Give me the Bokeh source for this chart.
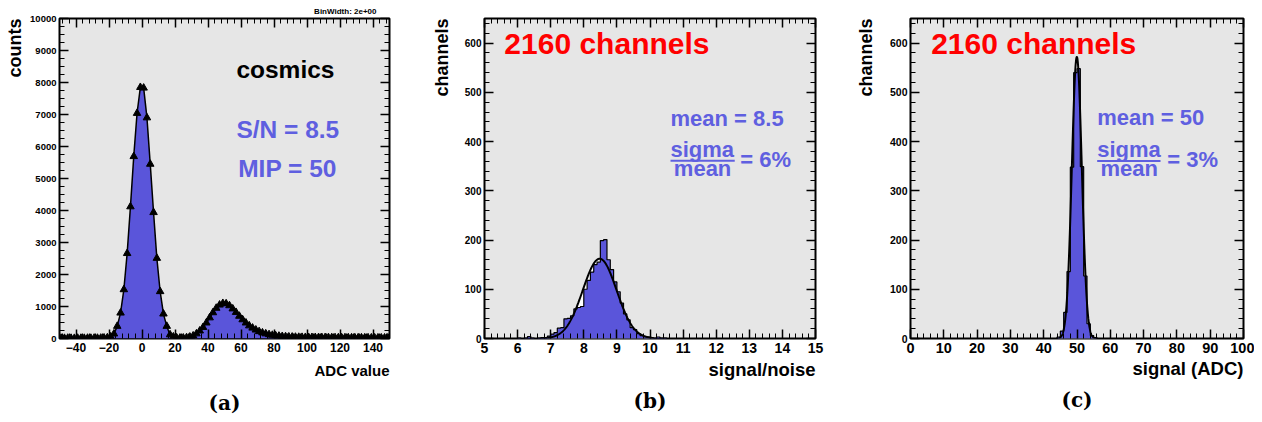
import numpy as np
from bokeh.plotting import figure
from bokeh.models import (FixedTicker, LinearAxis, Label, Range1d, CustomJSTickFormatter, Title)
from bokeh.layouts import row
from bokeh.embed import file_html
from bokeh.resources import INLINE

# ---------------- data ----------------
# Panel (a): cosmics ADC spectrum, bin width 2 (bin centres)
adc_bin_centers = list(range(-49, 150, 2))
adc_counts = [12, 10, 14, 11, 9, 13, 12, 10, 14, 12, 15, 13, 16, 20, 28, 55, 146, 385, 800, 1530,
              2660, 4120, 5690, 7040, 7850,
              7830, 6900, 5450, 3940, 2510, 1470, 770, 385, 120, 55, 25, 18, 20, 30, 50,
              85, 150, 240, 350, 490, 650, 810, 950, 1050, 1100,
              1090, 1030, 930, 820, 700, 590, 490, 400, 330, 270, 220, 180, 150, 125, 105,
              90, 78, 68, 60, 54, 49, 45, 42, 40, 38,
              37, 36, 35, 34, 33, 33, 32, 31, 30, 30, 29, 28, 28, 27, 27, 26, 26, 25, 25,
              24, 24, 23, 23, 22, 22]

# Panel (b): signal/noise per channel, bin width 0.1 (low edges of non-empty region)
sn_bin_low = [round(6.0 + 0.1 * i, 1) for i in range(45)]
sn_counts = [1, 0, 1, 4, 1, 0, 1, 2, 2, 5,
             9, 12, 21, 22, 40, 41, 46, 60, 63, 65,
             100, 118, 135, 150, 155, 199, 201, 160, 140, 115,
             95, 72, 50, 38, 22, 18, 10, 6, 4, 3,
             2, 1, 3, 1, 1]
sn_fit = {"amp": 162.0, "mean": 8.48, "sigma": 0.51, "lo": 6.9, "hi": 10.1}

# Panel (c): signal (ADC) per channel, bin width 1 (low edges)
sig_bin_low = [44, 45, 46, 47, 48, 49, 50, 51, 52, 53, 54, 55]
sig_counts = [3, 15, 53, 136, 348, 540, 548, 349, 127, 30, 6, 2]
sig_fit = {"amp": 572.0, "mean": 49.95, "sigma": 1.5, "lo": 44.5, "hi": 55.5}

# ---------------- style ----------------
GREY = "#e6e6e6"
FILL = "#5a55da"
TXT_BLUE = "#5f5fe0"
FONT = "Liberation Sans"
SERIF = "DejaVu Serif"


def make_fig(xr, yr, w, h, bl, br, bt, bb):
    p = figure(x_range=Range1d(*xr), y_range=Range1d(*yr), width=w, height=h,
               min_border_left=bl, min_border_right=br, min_border_top=bt,
               min_border_bottom=bb, output_backend="svg", toolbar_location=None,
               tools="", title=None)
    p.background_fill_color = GREY
    p.border_fill_color = "white"
    p.outline_line_color = "black"
    p.outline_line_width = 2
    p.xgrid.visible = False
    p.ygrid.visible = False
    return p


def style_axis(ax, ticker, size, standoff):
    ax.ticker = ticker
    ax.axis_line_color = None
    ax.major_tick_in = 9
    ax.major_tick_out = 0
    ax.minor_tick_in = 5
    ax.minor_tick_out = 0
    ax.major_tick_line_color = "black"
    ax.major_tick_line_width = 1.5
    ax.minor_tick_line_color = "black"
    ax.minor_tick_line_width = 1
    ax.major_label_text_font = FONT
    ax.major_label_text_font_style = "bold"
    ax.major_label_text_font_size = size
    ax.major_label_standoff = standoff
    ax.major_label_text_color = "black"


def add_mirror(p, xticker, yticker):
    for loc, tk in (("above", xticker), ("right", yticker)):
        ax = LinearAxis()
        style_axis(ax, tk, "1px", 0)
        ax.formatter = CustomJSTickFormatter(code="return ''")
        p.add_layout(ax, loc)


def lab(p, x, y, text, size, color="black"):
    p.add_layout(Label(x=x, y=y, text=text, text_font=FONT, text_font_style="bold",
                       text_font_size=size, text_color=color, text_align="left",
                       text_baseline="middle"))


def title(p, text, loc, size, align, standoff, offset=0, font=FONT):
    p.add_layout(Title(text=text, align=align, vertical_align="bottom", standoff=standoff,
                       offset=offset, text_font=font, text_font_style="bold",
                       text_font_size=size, text_color="black"), loc)


def ticks(major, minor):
    return FixedTicker(ticks=major, minor_ticks=[m for m in minor if m not in major])


def fit_xy(f):
    xs = np.linspace(f["lo"], f["hi"], 400)
    ys = f["amp"] * np.exp(-0.5 * ((xs - f["mean"]) / f["sigma"]) ** 2)
    return xs, ys


def hist_panel(p, low, counts, width, xlo, xhi, f):
    fx, fy = fit_xy(f)
    # area under the fit curve shows white where the fit lies above the bins
    p.varea(x=fx, y1=0, y2=fy, fill_color="white")
    edges = [float(v) for v in low] + [float(low[-1]) + width]
    p.varea_step(x=edges, y1=[0] * len(edges), y2=list(counts) + [0], step_mode="after",
                 fill_color=FILL)
    xs = [xlo] + edges + [xhi]
    ys = [0] + list(counts) + [0, 0]
    p.step(xs, ys, mode="after", line_color="black", line_width=1.2)
    p.line(fx, fy, line_color="black", line_width=2)


# ---------------- panel (a) ----------------
pa = make_fig((-50, 150), (0, 10000), 420, 422, 57, 31, 18, 84)
ax_t = ticks(list(range(-40, 141, 20)), list(range(-48, 151, 4)))
ay_t = ticks(list(range(0, 10001, 1000)), list(range(0, 10001, 250)))
style_axis(pa.xaxis[0], ax_t, "12px", 4)
style_axis(pa.yaxis[0], ay_t, "9.5px", 3)
add_mirror(pa, ax_t, ay_t)
pa.varea(x=adc_bin_centers, y1=0, y2=adc_counts, fill_color=FILL)
pa.line(adc_bin_centers, adc_counts, line_color="black", line_width=1.5)
pa.scatter(adc_bin_centers, adc_counts, marker="triangle", size=7.5, color="black")
lab(pa, 57.2, 8410, "cosmics", "24.5px")
lab(pa, 57.2, 6525, "S/N = 8.5", "24.5px", TXT_BLUE)
lab(pa, 58.3, 5305, "MIP = 50", "24.5px", TXT_BLUE)
title(pa, "ADC value", "below", "15px", "right", 10)
title(pa, "(a)", "below", "20px", "center", 10, font=SERIF)
title(pa, "counts", "left", "18px", "right", 5)
title(pa, "BinWidth: 2e+00", "above", "8px", "right", 4.6, offset=13)

# ---------------- panel (b) ----------------
pb = make_fig((5, 15), (0, 650), 423, 422, 63, 28, 16, 84)
bx_t = ticks(list(range(5, 16)), [round(5 + 0.2 * i, 1) for i in range(51)])
by_t = ticks(list(range(0, 601, 100)), list(range(0, 641, 20)))
style_axis(pb.xaxis[0], bx_t, "14px", 4)
style_axis(pb.yaxis[0], by_t, "10px", 3)
add_mirror(pb, bx_t, by_t)
hist_panel(pb, sn_bin_low, sn_counts, 0.1, 5, 15, sn_fit)
lab(pb, 5.60, 600, "2160 channels", "30px", "#ff0000")
lab(pb, 10.62, 447.2, "mean = 8.5", "22px", TXT_BLUE)
lab(pb, 10.62, 383, "sigma", "22px", TXT_BLUE)
pb.segment(x0=[10.62], y0=[361], x1=[12.56], y1=[361], line_color=TXT_BLUE, line_width=2)
lab(pb, 10.72, 344.6, "mean", "22px", TXT_BLUE)
lab(pb, 12.73, 363.3, "= 6%", "22px", TXT_BLUE)
title(pb, "signal/noise", "below", "18.5px", "right", 3)
title(pb, "(b)", "below", "20px", "center", 11, font=SERIF)
title(pb, "channels", "left", "18px", "right", 19)

# ---------------- panel (c) ----------------
pc = make_fig((0, 100), (0, 650), 411, 422, 67, 11, 16, 84)
cx_t = ticks(list(range(0, 101, 10)), list(range(0, 101, 2)))
style_axis(pc.xaxis[0], cx_t, "14.5px", 4)
style_axis(pc.yaxis[0], by_t, "10.5px", 3)
add_mirror(pc, cx_t, by_t)
hist_panel(pc, sig_bin_low, sig_counts, 1, 0, 100, sig_fit)
lab(pc, 6.2, 600, "2160 channels", "30px", "#ff0000")
lab(pc, 56.06, 448.6, "mean = 50", "22px", TXT_BLUE)
lab(pc, 56.06, 383, "sigma", "22px", TXT_BLUE)
pc.segment(x0=[56.06], y0=[360.7], x1=[75.08], y1=[360.7], line_color=TXT_BLUE, line_width=2)
lab(pc, 57.06, 344.6, "mean", "22px", TXT_BLUE)
lab(pc, 77.09, 363.3, "= 3%", "22px", TXT_BLUE)
title(pc, "signal (ADC)", "below", "18.5px", "right", 1)
title(pc, "(c)", "below", "20px", "center", 12, font=SERIF)
title(pc, "channels", "left", "18px", "right", 21)

layout = row(pa, pb, pc)
open("out.html", "w").write(file_html(layout, INLINE))
